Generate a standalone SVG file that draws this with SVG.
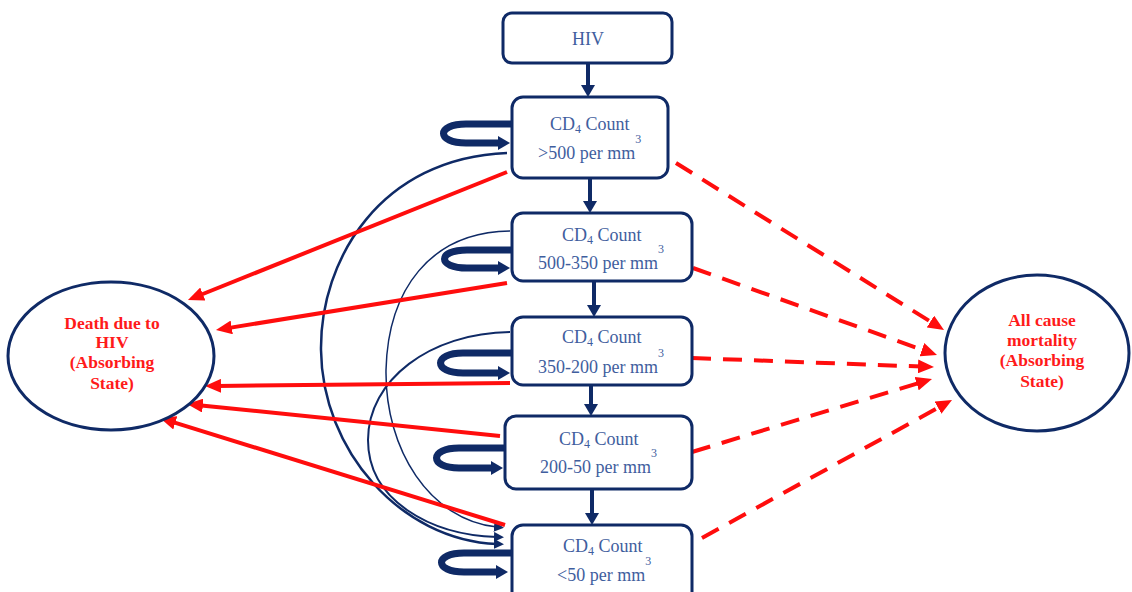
<svg xmlns="http://www.w3.org/2000/svg" width="1132" height="592" viewBox="0 0 1132 592">
<style>
.box{fill:#fff;stroke:#0f2a66;stroke-width:3}
.ell{fill:#fff;stroke:#0f2a66;stroke-width:3}
.t{font-family:"Liberation Serif","Times New Roman",serif;font-size:18px;fill:#3f5e9e}
.sup{font-size:12px}
.sub{font-size:12px}
.et{font-family:"Liberation Serif","Times New Roman",serif;font-size:17.5px;font-weight:bold;fill:#ff1a1a;text-anchor:middle}
.va{stroke:#0f2a66;stroke-width:4;fill:none;marker-end:url(#nv)}
.loop{stroke:#0f2a66;stroke-width:7;fill:none;stroke-linecap:butt;marker-end:url(#nvl)}
.arc{stroke:#0f2a66;fill:none;marker-end:url(#nvs)}
.rs{stroke:#ff0d0d;stroke-width:4;fill:none;marker-end:url(#rd)}
.rd{stroke:#ff0d0d;stroke-width:4;fill:none;stroke-dasharray:19 12;marker-end:url(#rd)}
</style>
<defs>
<marker id="nv" viewBox="0 0 12 14" refX="3" refY="7" markerWidth="12" markerHeight="14" markerUnits="userSpaceOnUse" orient="auto"><path d="M0,0 L12,7 L0,14 z" fill="#0f2a66"/></marker>
<marker id="nvl" viewBox="0 0 12 14" refX="2" refY="7" markerWidth="12" markerHeight="14" markerUnits="userSpaceOnUse" orient="auto"><path d="M0,0 L12,7 L0,14 z" fill="#0f2a66"/></marker>
<marker id="nvs" viewBox="0 0 10 10" refX="3" refY="5" markerWidth="10" markerHeight="10" markerUnits="userSpaceOnUse" orient="auto"><path d="M0,0 L10,5 L0,10 z" fill="#0f2a66"/></marker>
<marker id="rd" viewBox="0 0 16 14" refX="4" refY="7" markerWidth="16" markerHeight="14" markerUnits="userSpaceOnUse" orient="auto"><path d="M0,0 L16,7 L0,14 z" fill="#ff0d0d"/></marker>
</defs>

<g id="connectors">
<line class="va" x1="588" y1="63" x2="588" y2="88"/>
<line class="va" x1="590" y1="178" x2="590" y2="204"/>
<line class="va" x1="594" y1="281" x2="594" y2="308"/>
<line class="va" x1="591" y1="385" x2="591" y2="407"/>
<line class="va" x1="592" y1="489" x2="592" y2="516"/>
<path class="loop" d="M512,124 L466,124 C436,124 436,143 466,143 L500,143"/>
<path class="loop" d="M512,250 L467,250 C437,250 437,268 467,268 L500,268"/>
<path class="loop" d="M512,353 L463,353 C433,353 433,373 463,373 L500,373"/>
<path class="loop" d="M505,448 L459,448 C429,448 429,468 459,468 L493,468"/>
<path class="loop" d="M512,553 L464,553 C434,553 434,572 464,572 L498,572"/>
<path class="arc" stroke-width="2.5" d="M507,153 C380,158 320,260 321,350 C322,450 400,540 497,544"/>
<path class="arc" stroke-width="1.5" d="M510,231 C430,232 388,290 386,370 C385,450 430,520 497,527"/>
<path class="arc" stroke-width="2" d="M510,332 C430,333 368,380 368,440 C368,500 430,535 497,537"/>
<line class="rs" x1="507" y1="172" x2="199.1" y2="295.5"/>
<line class="rs" x1="507" y1="283" x2="227.8" y2="328.1"/>
<line class="rs" x1="510" y1="383" x2="217" y2="385.9"/>
<line class="rs" x1="500" y1="436" x2="198.9" y2="405.2"/>
<line class="rs" x1="505" y1="525" x2="171.5" y2="421.6"/>
<line class="rd" x1="676" y1="163" x2="933.8" y2="323.7"/>
<line class="rd" x1="693" y1="268" x2="925.7" y2="351"/>
<line class="rd" x1="692" y1="358" x2="922" y2="366.6"/>
<line class="rd" x1="692" y1="452" x2="920.5" y2="382.5"/>
<line class="rd" x1="702" y1="538" x2="941.5" y2="405.8"/>
</g>

<g id="hiv">
<rect class="box" x="503" y="13" width="169" height="50" rx="9"/>
<text class="t" x="588" y="45" text-anchor="middle">HIV</text>
</g>

<g id="cd4-500">
<rect class="box" x="512" y="97" width="156" height="81" rx="11"/>
<text class="t" x="550" y="130">CD<tspan class="sub" dy="3">4</tspan><tspan dy="-3"> Count</tspan></text>
<text class="t" x="538" y="159">&gt;500 per mm<tspan class="sup" dy="-16">3</tspan></text>
</g>

<g id="cd4-500-350">
<rect class="box" x="512" y="213" width="180" height="68" rx="11"/>
<text class="t" x="562" y="241">CD<tspan class="sub" dy="3">4</tspan><tspan dy="-3"> Count</tspan></text>
<text class="t" x="538" y="269">500-350 per mm<tspan class="sup" dy="-16">3</tspan></text>
</g>

<g id="cd4-350-200">
<rect class="box" x="512" y="317" width="180" height="68" rx="11"/>
<text class="t" x="562" y="343">CD<tspan class="sub" dy="3">4</tspan><tspan dy="-3"> Count</tspan></text>
<text class="t" x="538" y="373">350-200 per mm<tspan class="sup" dy="-16">3</tspan></text>
</g>

<g id="cd4-200-50">
<rect class="box" x="505" y="416" width="187" height="73" rx="11"/>
<text class="t" x="559" y="445">CD<tspan class="sub" dy="3">4</tspan><tspan dy="-3"> Count</tspan></text>
<text class="t" x="540" y="473">200-50 per mm<tspan class="sup" dy="-16">3</tspan></text>
</g>

<g id="cd4-50">
<rect class="box" x="512" y="525" width="180" height="80" rx="11"/>
<text class="t" x="563" y="552">CD<tspan class="sub" dy="3">4</tspan><tspan dy="-3"> Count</tspan></text>
<text class="t" x="557" y="581">&lt;50 per mm<tspan class="sup" dy="-16">3</tspan></text>
</g>

<g id="death-hiv">
<ellipse class="ell" cx="111" cy="356" rx="103" ry="74"/>
<text class="et" x="112" y="329">Death due to</text>
<text class="et" x="112" y="348">HIV</text>
<text class="et" x="112" y="368">(Absorbing</text>
<text class="et" x="112" y="389">State)</text>
</g>

<g id="all-cause">
<ellipse class="ell" cx="1037" cy="353" rx="92" ry="78"/>
<text class="et" x="1042" y="326">All cause</text>
<text class="et" x="1042" y="346">mortality</text>
<text class="et" x="1042" y="366">(Absorbing</text>
<text class="et" x="1042" y="387">State)</text>
</g>
</svg>
